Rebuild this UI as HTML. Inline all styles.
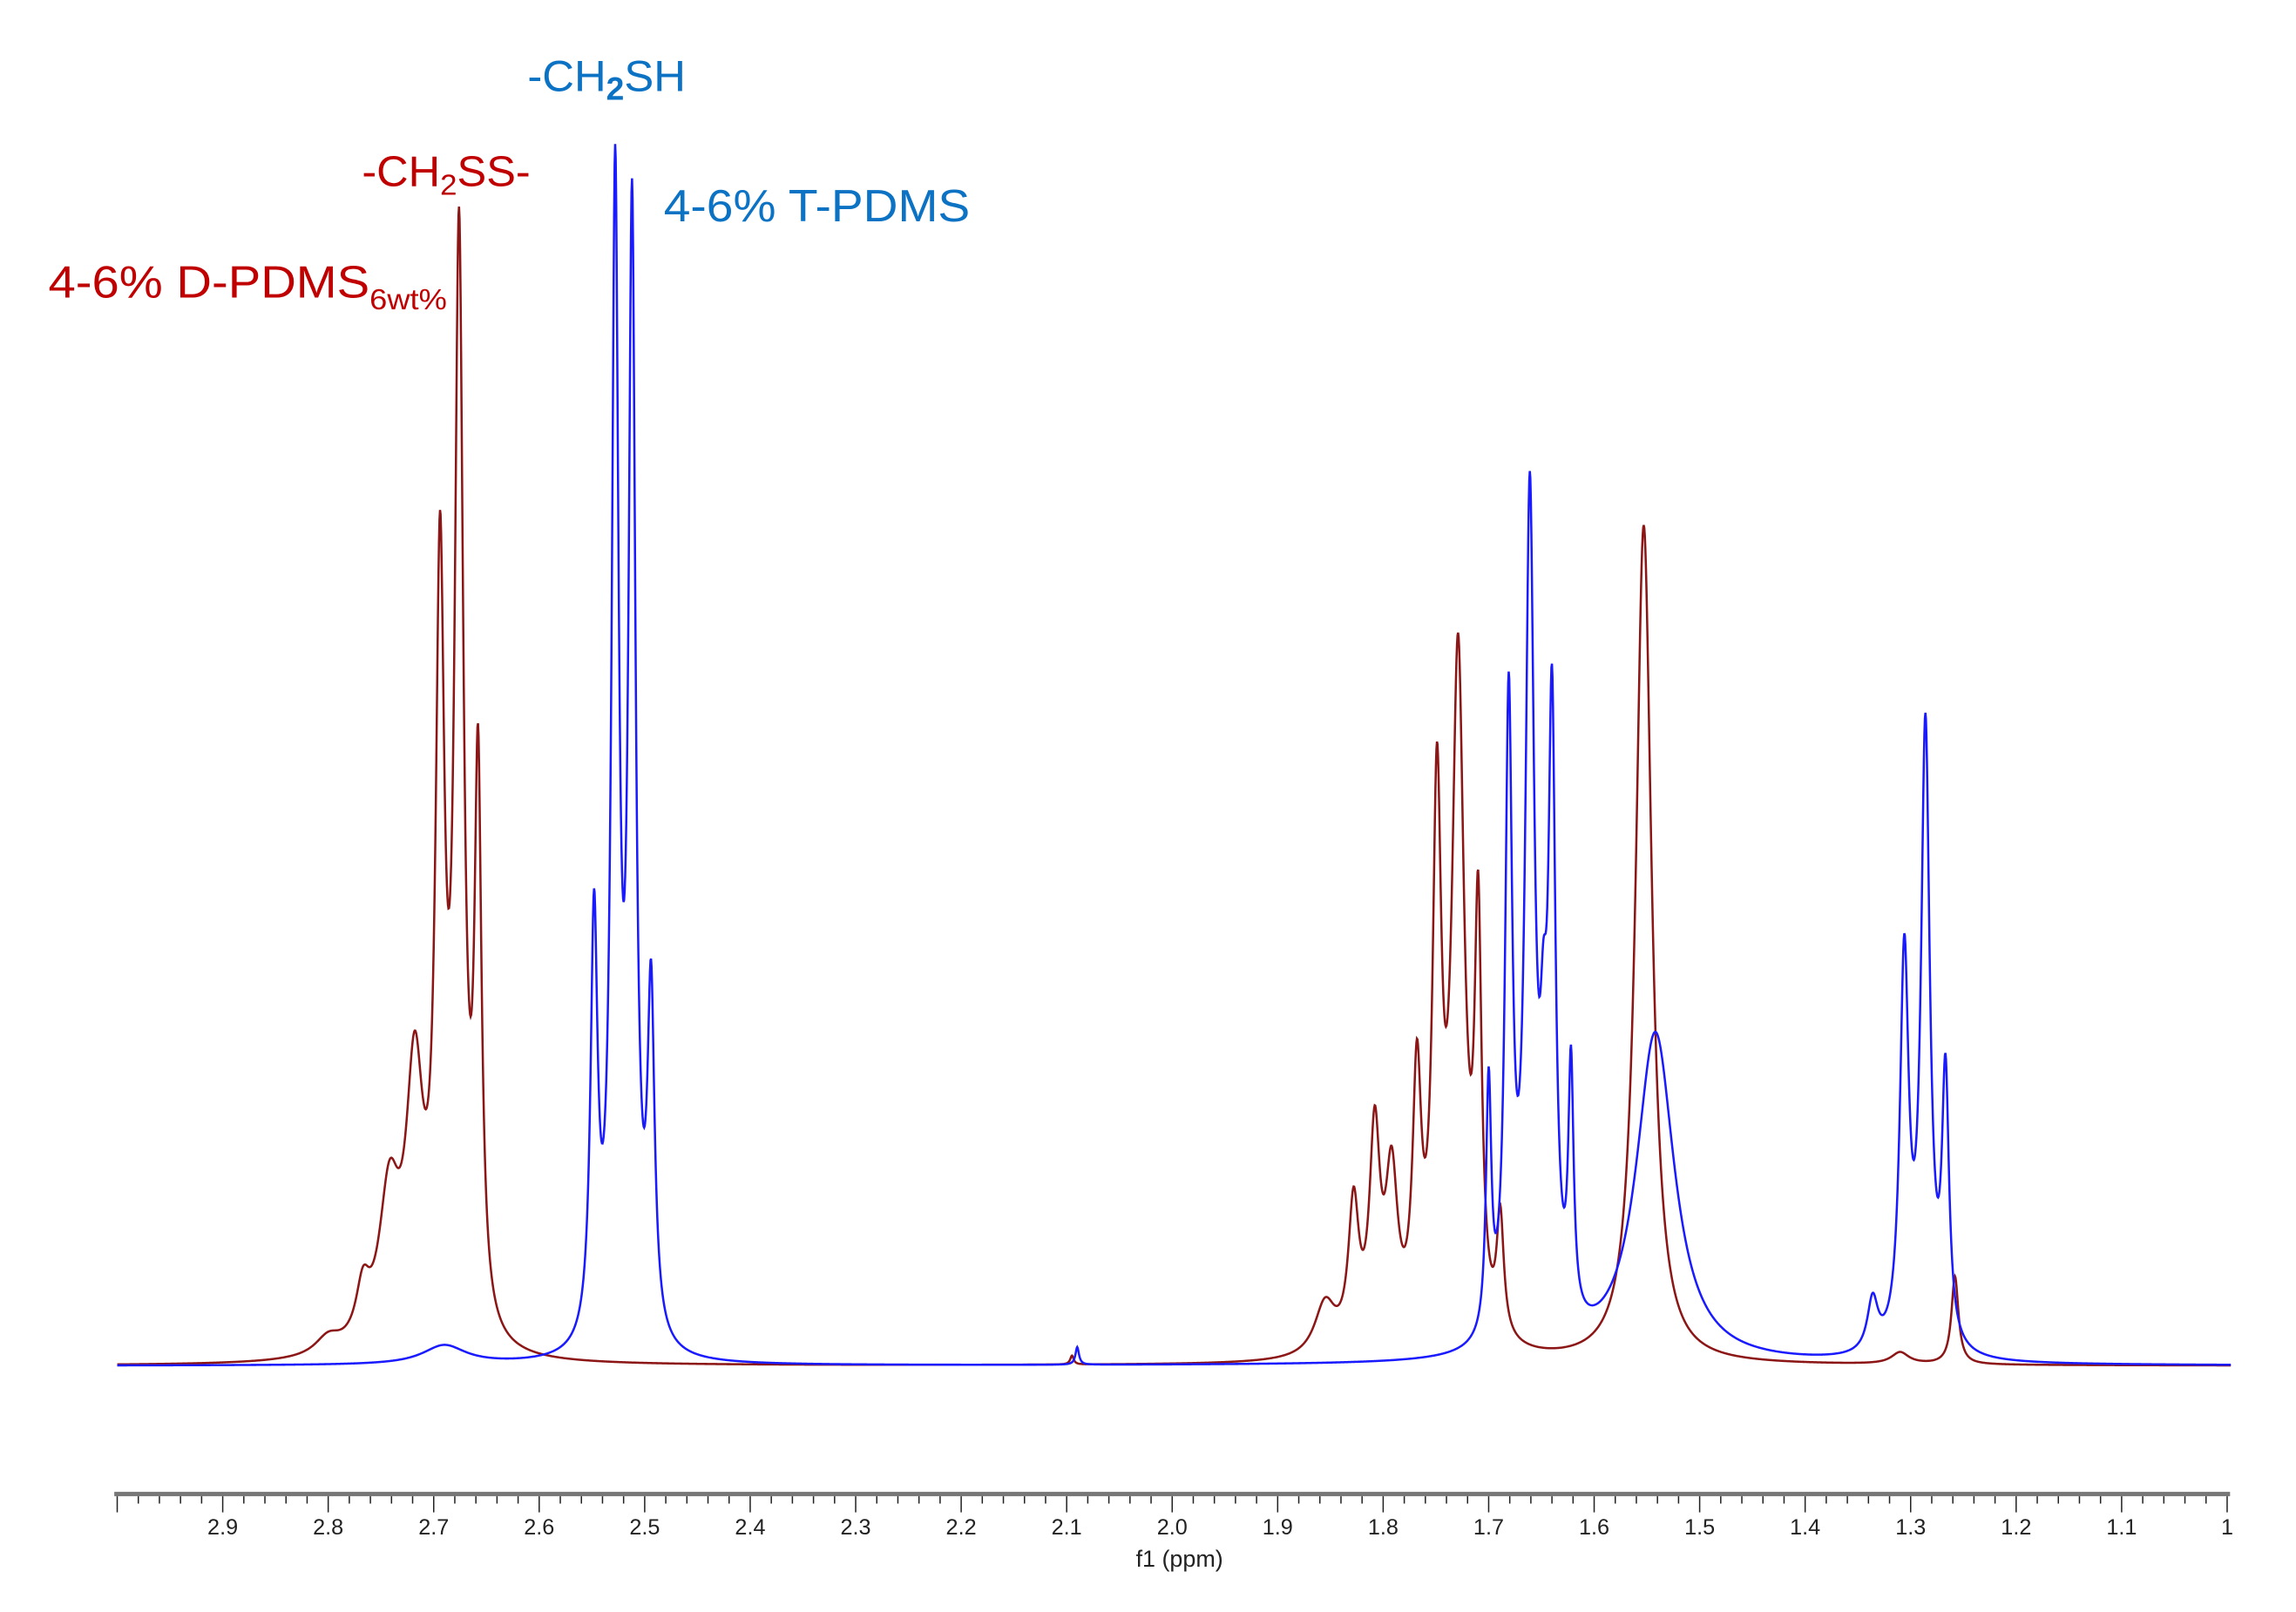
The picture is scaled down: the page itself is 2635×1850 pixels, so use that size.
<!DOCTYPE html>
<html><head><meta charset="utf-8"><style>
html,body{margin:0;padding:0;background:#fff;}
svg{display:block;}
</style></head><body>
<svg id="chart" width="2635" height="1850" viewBox="0 0 1567 1100" preserveAspectRatio="none" xmlns="http://www.w3.org/2000/svg" font-family="'Liberation Sans', sans-serif">
<rect width="1567" height="1100" fill="#fff"/>
<g id="spectra"></g>
<g id="axis"></g>
<text x="805" y="1069" font-size="16" text-anchor="middle" fill="#222">f1 (ppm)</text>
<text x="360" y="62" font-size="30" fill="#0b72c4" textLength="108" lengthAdjust="spacingAndGlyphs">-CH<tspan font-size="22" dy="6" font-weight="bold">2</tspan><tspan dy="-6">SH</tspan></text>
<text x="453" y="151" font-size="31" fill="#0b72c4" textLength="209" lengthAdjust="spacingAndGlyphs">4-6% T-PDMS</text>
<text x="247" y="127" font-size="29" fill="#c00000" textLength="115" lengthAdjust="spacingAndGlyphs">-CH<tspan font-size="20" dy="6">2</tspan><tspan dy="-6">SS-</tspan></text>
<text x="33" y="203" font-size="31" fill="#c00000" textLength="272" lengthAdjust="spacingAndGlyphs">4-6% D-PDMS<tspan font-size="20" dy="8">6wt%</tspan></text>
</svg>
<script>
// Red (D-PDMS) peaks: ppm, height (px above baseline), half-width (ppm)
const redPpm =    [2.676, 2.694, 2.658, 2.718, 2.742, 2.767, 2.80, 1.729, 1.749, 1.710, 1.768, 1.792, 1.808, 1.828, 1.855, 1.689, 1.553, 1.258, 1.31, 2.095];
const redHeight = [725,   495,   370,   175,   100,   35,    12,   460,   355,   270,   170,   110,   140,   95,    35,    80,    572,   60,    8,    6];
const redWidth =  [0.005, 0.005, 0.004, 0.010, 0.012, 0.008, 0.015,0.007, 0.005, 0.004, 0.005, 0.007, 0.006, 0.006, 0.012, 0.004, 0.009, 0.004, 0.01, 0.002];
// Blue (T-PDMS) peaks
const bluePpm =    [2.528, 2.512, 2.548, 2.494, 2.69, 1.661, 1.681, 1.640, 1.700, 1.622, 1.542, 1.286, 1.306, 1.267, 1.336, 2.09, 1.648];
const blueHeight = [775,   750,   285,   230,   13,   560,   425,   405,   170,   170,   225,   420,   265,   180,   35,    12,   120];
const blueWidth =  [0.004, 0.004, 0.004, 0.004, 0.025,0.005, 0.004, 0.004, 0.003, 0.003, 0.022, 0.005, 0.005, 0.004, 0.006, 0.002,0.004];
const majorTicks = [2.9,2.8,2.7,2.6,2.5,2.4,2.3,2.2,2.1,2.0,1.9,1.8,1.7,1.6,1.5,1.4,1.3,1.2,1.1,1.0];
const majorLabels = ["2.9","2.8","2.7","2.6","2.5","2.4","2.3","2.2","2.1","2.0","1.9","1.8","1.7","1.6","1.5","1.4","1.3","1.2","1.1","1"];

const NS='http://www.w3.org/2000/svg';
const X0=152, PXPPM=720, BASE=932;
function xScale(p){return X0+(2.9-p)*PXPPM;}
function yScale(h){return BASE-h;}
function spectrum(ppm,hts,wid,p){let s=0;for(let i=0;i<ppm.length;i++){const d=(p-ppm[i])/wid[i];s+=hts[i]/(1+d*d);}return s;}
function drawSeries(ppm,hts,wid,color,name){
  let d='';
  for(let p=3.0;p>=0.996;p-=0.0005){
    const x=xScale(p), y=yScale(spectrum(ppm,hts,wid,p));
    d+=(d?'L':'M')+x.toFixed(2)+' '+y.toFixed(2);
  }
  const path=document.createElementNS(NS,'path');
  path.setAttribute('d',d);path.setAttribute('fill','none');
  path.setAttribute('stroke',color);path.setAttribute('stroke-width','1.5');
  
  
  document.getElementById('spectra').appendChild(path);
}
drawSeries(redPpm,redHeight,redWidth,'#8c1616','d-pdms-spectrum');
drawSeries(bluePpm,blueHeight,blueWidth,'#1a1aff','t-pdms-spectrum');

const ax=document.getElementById('axis');
const line=document.createElementNS(NS,'rect');
line.setAttribute('x',xScale(3.0)-2);line.setAttribute('y',1018);
line.setAttribute('width',xScale(1.0)-xScale(3.0)+4);line.setAttribute('height',3);
line.setAttribute('fill','#777');


ax.appendChild(line);
for(let i=0;i<=100;i++){
  const p=3.0-i*0.02, x=xScale(p);
  const major=(i%5===0);
  const t=document.createElementNS(NS,'line');
  t.setAttribute('x1',x);t.setAttribute('x2',x);t.setAttribute('y1',1021);t.setAttribute('y2',major?1032:1026);
  t.setAttribute('stroke','#222');t.setAttribute('stroke-width','0.9');
  
  
  ax.appendChild(t);
}
majorTicks.forEach((v,i)=>{
  const t=document.createElementNS(NS,'text');
  t.setAttribute('x',xScale(v));t.setAttribute('y',1047);
  t.setAttribute('font-size','15');t.setAttribute('text-anchor','middle');t.setAttribute('fill','#222');
  t.textContent=majorLabels[i];
  
  
  ax.appendChild(t);
});
</script>
</body></html>
